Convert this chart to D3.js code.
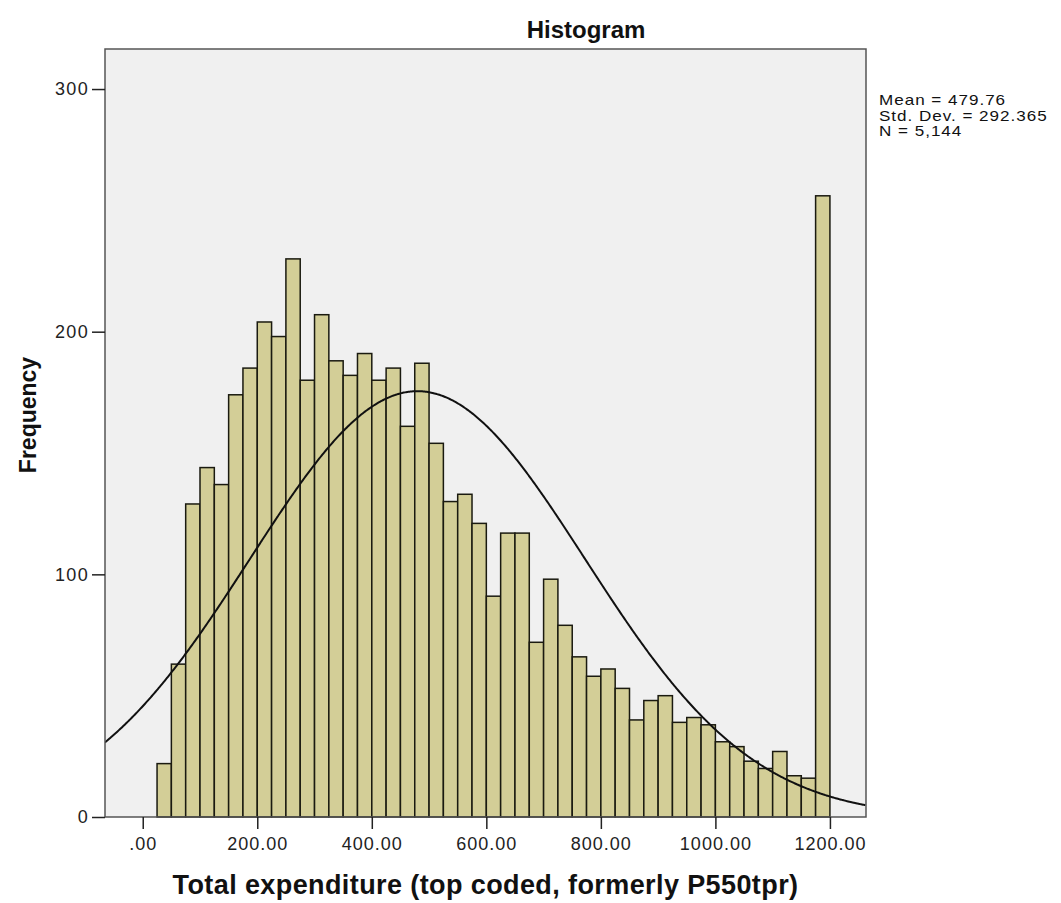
<!DOCTYPE html>
<html>
<head>
<meta charset="utf-8">
<script src="https://cdn.jsdelivr.net/npm/d3@7/dist/d3.min.js"></script>
<style>
  html, body { margin: 0; padding: 0; background: #ffffff; }
  svg { display: block; font-family: "Liberation Sans", Arial, sans-serif; }
</style>
</head>
<body>
<svg id="chart" width="1061" height="903"></svg>
<script>
// ---- data ----
const binStarts = [25,50,75,100,125,150,175,200,225,250,275,300,325,350,375,400,425,450,475,500,
  525,550,575,600,625,650,675,700,725,750,775,800,825,850,875,900,925,950,975,1000,
  1025,1050,1075,1100,1125,1150,1175];
const frequencies = [22,63,129,144,137,174,185,204,198,230,180,207,188,182,191,180,185,161,187,154,
  130,133,121,91,117,117,72,98,79,66,58,61,53,40,48,50,39,41,38,31,
  29,23,20,27,17,16,256];
const binWidth = 25;
const xTickValues = [0,200,400,600,800,1000,1200];
const xTickLabels = [".00","200.00","400.00","600.00","800.00","1000.00","1200.00"];
const yTickValues = [0,100,200,300];
const statsMean = 479.76;
const statsSD = 292.365;
const statsN = 5144;
const statsLines = ["Mean = 479.76", "Std. Dev. = 292.365", "N = 5,144"];

// ---- layout ----
const svg = d3.select("#chart");
const plot = { left: 105, top: 49, right: 866, bottom: 817 };
const FONT = '"Liberation Sans", Arial, sans-serif';

const x = d3.scaleLinear().domain([-65.9, 1263]).range([plot.left, plot.right]);
const y = d3.scaleLinear().domain([0, 316.5]).range([plot.bottom, plot.top]);

// background
svg.append("rect")
  .attr("x", plot.left).attr("y", plot.top)
  .attr("width", plot.right - plot.left).attr("height", plot.bottom - plot.top)
  .attr("fill", "#f0f0f0");

svg.append("defs").append("clipPath").attr("id", "clip")
  .append("rect")
  .attr("x", plot.left).attr("y", plot.top)
  .attr("width", plot.right - plot.left).attr("height", plot.bottom - plot.top);

// bars
svg.append("g").selectAll("rect")
  .data(binStarts.map((s, i) => ({ s, f: frequencies[i] })))
  .join("rect")
  .attr("x", d => x(d.s))
  .attr("y", d => y(d.f))
  .attr("width", d => x(d.s + binWidth) - x(d.s))
  .attr("height", d => y(0) - y(d.f))
  .attr("fill", "#d3ce97")
  .attr("stroke", "#1a1a10")
  .attr("stroke-width", 1.5);

// normal curve from the stated statistics
const peak = statsN * binWidth / (statsSD * Math.sqrt(2 * Math.PI));
const curvePts = d3.range(-66, 1264, 2).map(v => [v, peak * Math.exp(-0.5 * Math.pow((v - statsMean) / statsSD, 2))]);
svg.append("path")
  .datum(curvePts)
  .attr("clip-path", "url(#clip)")
  .attr("fill", "none")
  .attr("stroke", "#111")
  .attr("stroke-width", 2)
  .attr("d", d3.line().x(d => x(d[0])).y(d => y(d[1])).curve(d3.curveBasis));

// frame
svg.append("rect")
  .attr("x", plot.left).attr("y", plot.top)
  .attr("width", plot.right - plot.left).attr("height", plot.bottom - plot.top)
  .attr("fill", "none")
  .attr("stroke", "#555")
  .attr("stroke-width", 1.5);

// axes
const xAxis = d3.axisBottom(x).tickValues(xTickValues)
  .tickFormat((d, i) => xTickLabels[i]).tickSize(12).tickPadding(8);
const gx = svg.append("g").attr("transform", `translate(0,${plot.bottom})`).call(xAxis);
gx.select(".domain").remove();
gx.selectAll(".tick line").attr("stroke", "#222").attr("stroke-width", 1.5);
gx.selectAll(".tick text").attr("font-size", 18).attr("fill", "#222")
  .attr("letter-spacing", 1).attr("font-family", FONT);

const yAxis = d3.axisLeft(y).tickValues(yTickValues).tickFormat(d3.format("d")).tickSize(13).tickPadding(3);
const gy = svg.append("g").attr("transform", `translate(${plot.left},0)`).call(yAxis);
gy.select(".domain").remove();
gy.selectAll(".tick line").attr("stroke", "#222").attr("stroke-width", 1.5);
gy.selectAll(".tick text").attr("font-size", 18).attr("fill", "#222")
  .attr("letter-spacing", 1.3).attr("font-family", FONT);

// titles
svg.append("text")
  .attr("x", 586).attr("y", 38)
  .attr("text-anchor", "middle")
  .attr("font-size", 24).attr("font-weight", "bold").attr("fill", "#111")
  .text("Histogram");

svg.append("text")
  .attr("x", (plot.left + plot.right) / 2).attr("y", 894)
  .attr("text-anchor", "middle")
  .attr("font-size", 27).attr("font-weight", "bold").attr("fill", "#111")
  .attr("letter-spacing", 0.4)
  .text("Total expenditure (top coded, formerly P550tpr)");

svg.append("text")
  .attr("transform", `translate(36,415) rotate(-90)`)
  .attr("text-anchor", "middle")
  .attr("font-size", 23).attr("font-weight", "bold").attr("fill", "#111")
  .text("Frequency");

// stats box text
svg.append("g")
  .attr("transform", "translate(879,0) scale(1.22,1)")
  .selectAll("text")
  .data(statsLines)
  .join("text")
  .attr("x", 0)
  .attr("y", (d, i) => 105.5 + i * 15.5)
  .attr("font-size", 14).attr("fill", "#111")
  .attr("letter-spacing", 0.8)
  .text(d => d);
</script>
</body>
</html>
